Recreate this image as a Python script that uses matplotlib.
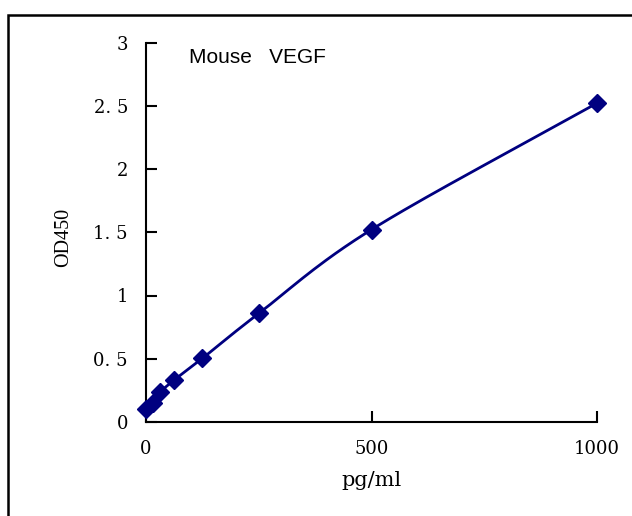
import numpy as np
import matplotlib
matplotlib.use('Agg')
import matplotlib.pyplot as plt
from matplotlib.patches import Rectangle

# standard curve data
conc = [0, 15.6, 31.25, 62.5, 125, 250, 500, 1000]
od450 = [0.103, 0.148, 0.234, 0.332, 0.503, 0.858, 1.521, 2.521]
yticks = [0, 0.5, 1, 1.5, 2, 2.5, 3]
ytick_labels = ['0', '0. 5', '1', '1. 5', '2', '2. 5', '3']
xticks = [0, 500, 1000]
xtick_labels = ['0', '500', '1000']
title = 'Mouse   VEGF'
xlabel = 'pg/ml'
ylabel = 'OD450'

NAVY = '#000080'
SERIF = 'DejaVu Serif'


def smooth_line(x, y, n=30):
    # Catmull-Rom style smoothing like Excel "smoothed line"
    x = np.asarray(x, float)
    y = np.asarray(y, float)
    px = np.concatenate([[2 * x[0] - x[1]], x, [2 * x[-1] - x[-2]]])
    py = np.concatenate([[2 * y[0] - y[1]], y, [2 * y[-1] - y[-2]]])
    xs, ys = [], []
    t = np.linspace(0, 1, n)
    for i in range(1, len(px) - 2):
        p0, p1, p2, p3 = [np.array([px[j], py[j]]) for j in range(i - 1, i + 3)]
        c1 = p1 + (p2 - p0) / 6.0
        c2 = p2 - (p3 - p1) / 6.0
        pts = ((1 - t) ** 3)[:, None] * p1 + (3 * (1 - t) ** 2 * t)[:, None] * c1 \
            + (3 * (1 - t) * t ** 2)[:, None] * c2 + (t ** 3)[:, None] * p2
        xs.extend(pts[:, 0])
        ys.extend(pts[:, 1])
    return xs, ys


fig = plt.figure(figsize=(6.32, 5.16), dpi=100)
ax = fig.add_axes([146 / 632, 1 - 422 / 516, 451 / 632, 379.5 / 516])

sx, sy = smooth_line(conc, od450)
ax.plot(sx, sy, color=NAVY, lw=2, zorder=2)
ax.plot(conc, od450, linestyle='none', marker='D', markersize=9,
        color=NAVY, markeredgecolor=NAVY, zorder=3, clip_on=False)

ax.set_xlim(0, 1000)
ax.set_ylim(0, 3)
ax.set_xticks(xticks)
ax.set_xticklabels(xtick_labels)
ax.set_yticks(yticks)
ax.set_yticklabels(ytick_labels)
ax.tick_params(direction='in', length=8, width=1.5, labelsize=13, pad=13)
for lab in ax.get_xticklabels() + ax.get_yticklabels():
    lab.set_fontfamily(SERIF)

for s in ['top', 'right']:
    ax.spines[s].set_visible(False)
for s in ['left', 'bottom']:
    ax.spines[s].set_linewidth(1.5)

ax.text(0.095, 0.96, title, transform=ax.transAxes, fontsize=15,
        family='Liberation Sans', va='center', ha='left')
fig.text(372 / 632, 1 - 480 / 516, xlabel, fontsize=15, family=SERIF,
         ha='center', va='center')
fig.text(64 / 632, 1 - 237 / 516, ylabel, fontsize=14.5, family='Liberation Serif',
         ha='center', va='center', rotation=90)

# outer chart border (runs off the right and bottom edges)
fig.patches.append(Rectangle((8 / 632, -0.1), 1.2, (516 - 15) / 516 + 0.1,
                             transform=fig.transFigure, fill=False,
                             edgecolor='black', lw=1.8))

fig.savefig('out.png', dpi=100)
